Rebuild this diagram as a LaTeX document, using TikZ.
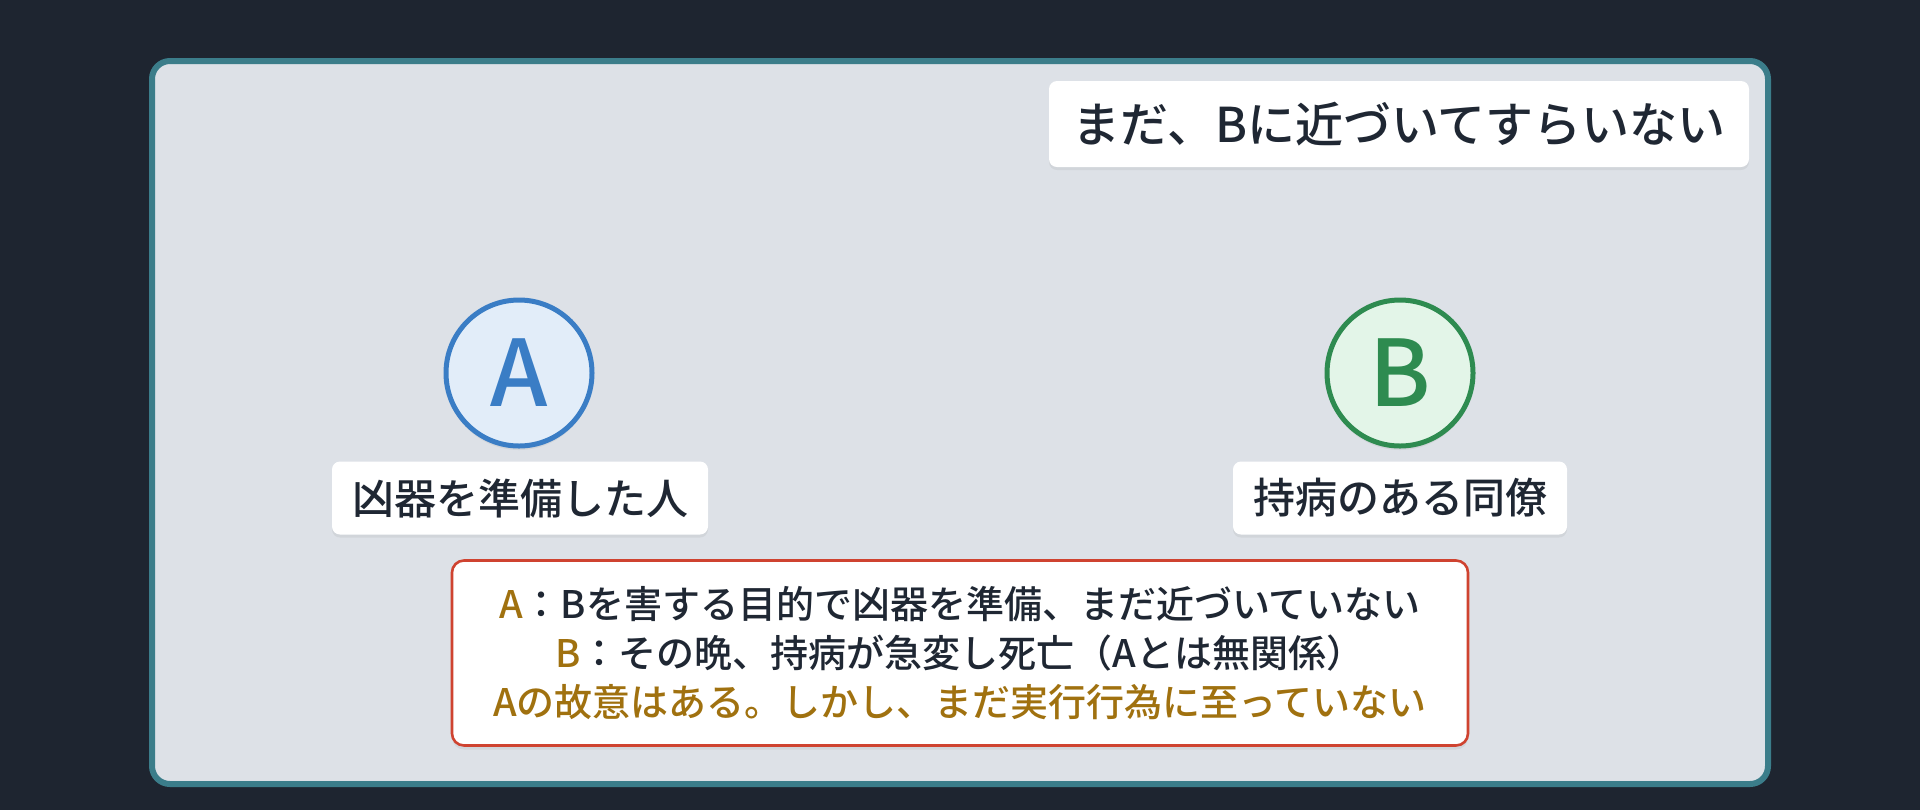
\documentclass[tikz,border=0pt]{standalone}
\usepackage{fontspec}
\setmainfont{Noto Sans CJK JP}[UprightFont={* Medium}, BoldFont={* Bold}]
\usepackage{xcolor}
\usepackage{tikz}
\usetikzlibrary{shadows}
\definecolor{bgdark}{HTML}{1E2530}
\definecolor{panelgray}{HTML}{DDE1E7}
\definecolor{frameteal}{HTML}{3B7D8A}
\definecolor{inkdark}{HTML}{1F2733}
\definecolor{gold}{HTML}{A0710F}
\definecolor{ablue}{HTML}{3A7DC5}
\definecolor{ablueb}{HTML}{E2EDF9}
\definecolor{bgreen}{HTML}{2E8B50}
\definecolor{bgreenb}{HTML}{E3F5E8}
\definecolor{notered}{HTML}{CF4330}
\begin{document}
\begin{tikzpicture}[x=0.5pt,y=-0.5pt,
  tag/.style={fill=white, rounded corners=4pt, inner sep=0pt, text=inkdark,
    drop shadow={opacity=0.12, shadow xshift=0pt, shadow yshift=-1.5pt}},
  person/.style={circle, minimum size=73pt, line width=2.5pt, inner sep=0pt,
    font=\fontsize{46}{46}\selectfont,
    drop shadow={opacity=0.12, shadow xshift=0pt, shadow yshift=-2pt}},
  note/.style={draw=notered, line width=1.3pt, fill=white, rounded corners=6pt,
    minimum width=508pt, minimum height=92.5pt, inner sep=0pt, align=center,
    text=inkdark, font=\fontsize{19}{24.5}\selectfont,
    drop shadow={opacity=0.12, shadow xshift=0pt, shadow yshift=-2pt}}]
\useasboundingbox (0,0) rectangle (1920,810);
\fill[bgdark] (0,0) rectangle (1920,810);
\draw[frameteal, line width=3pt, fill=panelgray, rounded corners=9pt] (152,61) rectangle (1768,784);

\node[tag, minimum width=350pt, minimum height=43pt, font=\fontsize{24}{24}\selectfont] (status) at (1399,124) {まだ、Bに近づいてすらいない};

\node[person, draw=ablue, fill=ablueb, text=ablue] (pa) at (519,373) {A};
\node[person, draw=bgreen, fill=bgreenb, text=bgreen] (pb) at (1400,373) {B};

\node[tag, minimum width=188pt, minimum height=36.5pt, font=\fontsize{21}{21}\selectfont] (rolea) at (520,498) {凶器を準備した人};
\node[tag, minimum width=167pt, minimum height=36.5pt, font=\fontsize{21}{21}\selectfont] (roleb) at (1400,498) {持病のある同僚};

\node[note] (facts) at (960,653) {{\color{gold}A}：Bを害する目的で凶器を準備、まだ近づいていない\\
{\color{gold}B}：その晩、持病が急変し死亡（Aとは無関係）\\
{\color{gold}Aの故意はある。しかし、まだ実行行為に至っていない}};
\end{tikzpicture}
\end{document}
